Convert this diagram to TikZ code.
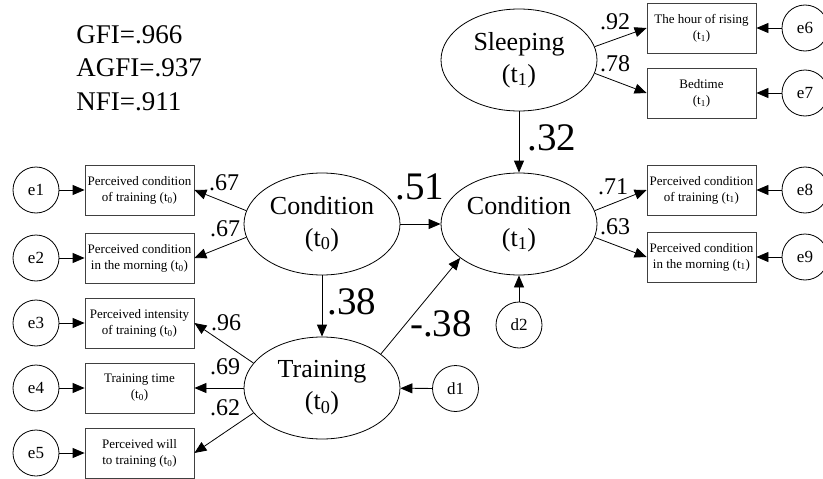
\documentclass[tikz,border=0pt]{standalone}
\usepackage{fontspec}
\setmainfont{Liberation Serif}
\usetikzlibrary{arrows.meta,shapes.geometric}

\newcommand{\tsub}[1]{t\textsubscript{#1}}

\begin{document}
\begin{tikzpicture}[x=1pt, y=-1pt,
    %Option for nice arrows
    >={Triangle[length=12pt, width=10pt]}, %
    line width=0.8pt,%
    latent/.style={draw, ellipse, minimum width=156pt, minimum height=102pt,
        inner sep=0pt, align=center, font=\fontsize{26}{32}\selectfont},
    observed/.style={draw=black!75, rectangle, minimum width=109pt, minimum height=50pt,
        inner sep=1pt, align=center, font=\fontsize{13}{16}\selectfont},
    residual/.style={draw, circle, minimum size=46pt, inner sep=0pt,
        font=\fontsize{17}{20}\selectfont},
    effect/.style={->},
    coef/.style={inner sep=0pt, font=\fontsize{24}{28}\selectfont},
    bigcoef/.style={inner sep=0pt, font=\fontsize{39}{44}\selectfont},
]
    \useasboundingbox (0,0) rectangle (823,479);

    % Fit indices
    \node[anchor=north west, align=left, inner sep=0pt, font=\fontsize{27}{33.5}\selectfont]
        (fit) at (76,25) {GFI=.966\\AGFI=.937\\NFI=.911};

    % Latent variables
    \node[latent] (cond0)  at (322,224) {Condition\\(\tsub{0})};
    \node[latent] (train0) at (322,388) {Training\\(\tsub{0})};
    \node[latent] (cond1)  at (519,224) {Condition\\(\tsub{1})};
    \node[latent] (sleep1) at (519,60)  {Sleeping\\(\tsub{1})};

    % Observed variables
    \node[observed] (pct0)  at (139.5,190) {Perceived condition\\of training (\tsub{0})};
    \node[observed] (pcm0)  at (139.5,258) {Perceived condition\\in the morning (\tsub{0})};
    \node[observed] (pit0)  at (139.5,323) {Perceived intensity\\of training (\tsub{0})};
    \node[observed] (tt0)   at (139.5,388) {Training time\\(\tsub{0})};
    \node[observed] (pwt0)  at (139.5,453) {Perceived will\\to training (\tsub{0})};
    \node[observed] (rise1) at (701.5,28)  {The hour of rising\\(\tsub{1})};
    \node[observed] (bed1)  at (701.5,93)  {Bedtime\\(\tsub{1})};
    \node[observed] (pct1)  at (701.5,190) {Perceived condition\\of training (\tsub{1})};
    \node[observed] (pcm1)  at (701.5,257) {Perceived condition\\in the morning (\tsub{1})};

    % Errors and disturbances
    \foreach \n/\y in {1/190, 2/258, 3/323, 4/388, 5/453}
        \node[residual] (e\n) at (36,\y) {e\n};
    \foreach \n/\y in {6/28, 7/93, 8/190, 9/257}
        \node[residual] (e\n) at (805,\y) {e\n};
    \node[residual] (d1) at (455.5,388.5) {d1};
    \node[residual] (d2) at (519,325) {d2};

    \foreach \e/\b in {e1/pct0, e2/pcm0, e3/pit0, e4/tt0, e5/pwt0,
                       e6/rise1, e7/bed1, e8/pct1, e9/pcm1}
        \draw[effect] (\e) -- (\b);

    % Loadings
    \draw[effect] (cond0.170)  -- (pct0.east);
    \draw[effect] (cond0.190)  -- (pcm0.east);
    \draw[effect] (train0.160) -- (pit0.east);
    \draw[effect] (train0)     -- (tt0);
    \draw[effect] (train0.200) -- (pwt0.east);
    \draw[effect] (sleep1.10)  -- (rise1.west);
    \draw[effect] (sleep1.350) -- (bed1.west);
    \draw[effect] (cond1.10)   -- (pct1.west);
    \draw[effect] (cond1.350)  -- (pcm1.west);

    % Paths between latent variables
    \draw[effect] (cond0)     -- (cond1);
    \draw[effect] (cond0)     -- (train0);
    \draw[effect] (train0.30) -- (cond1.210);
    \draw[effect] (sleep1)    -- (cond1);
    \draw[effect] (d1)        -- (train0);
    \draw[effect] (d2)        -- (cond1);

    % Coefficients
    \node[coef] (lpct0)  at (224,183) {.67};
    \node[coef] (lpcm0)  at (225,229) {.67};
    \node[coef] (lpit0)  at (226,323) {.96};
    \node[coef] (ltt0)   at (225,367) {.69};
    \node[coef] (lpwt0)  at (225,408) {.62};
    \node[coef] (lrise1) at (615,22)  {.92};
    \node[coef] (lbed1)  at (615,64)  {.78};
    \node[coef] (lpct1)  at (613,187) {.71};
    \node[coef] (lpcm1)  at (615,227) {.63};

    \node[bigcoef] (lcc)  at (420,187) {.51};
    \node[bigcoef] (lct)  at (352,302) {.38};
    \node[bigcoef] (ltc)  at (441,324) {-.38};
    \node[bigcoef] (lsc)  at (552,138) {.32};

\end{tikzpicture}
\end{document}
